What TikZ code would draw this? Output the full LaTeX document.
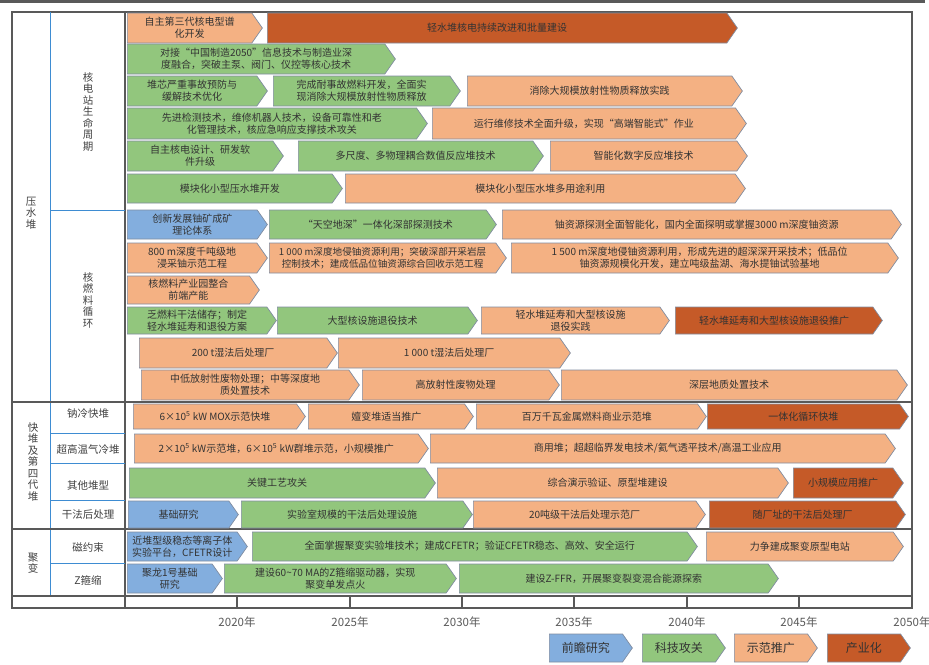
\documentclass[tikz,border=0pt]{standalone}
\usepackage{fontspec}
\setmainfont{Noto Sans CJK SC}
\usepackage{xcolor}
\usepackage{tikz}
\usetikzlibrary{shapes.symbols}

\definecolor{qianblue}{RGB}{131,174,222}
\definecolor{gonggreen}{RGB}{146,198,125}
\definecolor{shisalmon}{RGB}{244,177,131}
\definecolor{chandark}{RGB}{197,90,40}
\definecolor{edgegray}{RGB}{128,140,160}
\definecolor{framegray}{RGB}{89,89,89}
\definecolor{rowblue}{RGB}{62,140,210}

\tikzset{
  stagebox/.style={shape=signal, signal to=east, signal pointer angle=110,
    draw=edgegray, line width=0.7pt, inner sep=0pt, anchor=west, align=center,
    text=black!80, font=\fontsize{10}{12}\selectfont},
  wh/.style 2 args={minimum width=#1pt, minimum height=#2pt},
  qian/.style={stagebox, fill=qianblue},
  gong/.style={stagebox, fill=gonggreen},
  shi/.style={stagebox, fill=shisalmon},
  chan/.style={stagebox, fill=chandark},
  sidelabel/.style={align=center, text=black!75, font=\fontsize{10.5}{11.5}\selectfont},
  yearlabel/.style={text=black!65, font=\fontsize{11.5}{13}\selectfont},
  legendbox/.style={font=\fontsize{12}{14}\selectfont},
}

\begin{document}
\begin{tikzpicture}[x=1pt,y=-1pt]
  \useasboundingbox (0,0) rectangle (929,664);

  % top bar and frame
  \fill[framegray] (0,0) rectangle (925,3);
  \draw[framegray, line width=1.2pt] (12,12) rectangle (912,608);
  \draw[rowblue, line width=1pt] (50,12) -- (50,596);
  \draw[framegray, line width=1.2pt] (125,12) -- (125,608);
  \draw[framegray, line width=1.2pt] (12,402) -- (912,402);
  \draw[framegray, line width=1.2pt] (12,529) -- (912,529);
  \draw[framegray, line width=1.2pt] (12,596) -- (912,596);
  \draw[rowblue, line width=1pt] (50,210) -- (125,210);
  \foreach \yy in {433,463,500,563}
    \draw[rowblue, line width=1pt] (50,\yy) -- (125,\yy);

  % year ticks
  \foreach \xx/\yr in {237/2020,350/2025,462/2030,574/2035,687/2040,799/2045} {
    \draw[framegray, line width=1.2pt] (\xx,596) -- (\xx,608);
    \node[yearlabel] (y\yr) at (\xx,622) {\yr 年};
  }
  \node[yearlabel] (y2050) at (912,622) {2050年};

  % left labels
  \node[sidelabel] (pwr) at (31,213) {压\\水\\堆};
  \node[sidelabel] (life) at (88,112) {核\\电\\站\\生\\命\\周\\期};
  \node[sidelabel] (fuel) at (88,300) {核\\燃\\料\\循\\环};
  \node[sidelabel] (fast) at (33,462) {快\\堆\\及\\第\\四\\代\\堆};
  \node[sidelabel] (sfr) at (88,414) {钠冷快堆};
  \node[sidelabel] (vhtr) at (88,449) {超高温气冷堆};
  \node[sidelabel] (other) at (88,486) {其他堆型};
  \node[sidelabel] (dry) at (88,515) {干法后处理};
  \node[sidelabel] (fus) at (33,563) {聚\\变};
  \node[sidelabel] (mcf) at (88,547) {磁约束};
  \node[sidelabel] (zp) at (88,580) {Z箍缩};

  % nuclear plant life cycle
  \node[shi, wh={135}{30}] (r1a) at (127,28) {自主第三代核电型谱\\化开发};
  \node[chan, wh={470}{30}] (r1b) at (267,28) {轻水堆核电持续改进和批量建设};
  \node[gong, wh={268}{30}] (r2a) at (127,59) {对接“中国制造2050”信息技术与制造业深\\度融合，突破主泵、阀门、仪控等核心技术};
  \node[gong, wh={140}{30}] (r3a) at (127,91) {堆芯严重事故预防与\\缓解技术优化};
  \node[gong, wh={187}{30}] (r3b) at (273,91) {完成耐事故燃料开发，全面实\\现消除大规模放射性物质释放};
  \node[shi, wh={275}{30}] (r3c) at (467,91) {消除大规模放射性物质释放实践};
  \node[gong, wh={300}{31}] (r4a) at (127,123.5) {先进检测技术，维修机器人技术，设备可靠性和老\\化管理技术，核应急响应支撑技术攻关};
  \node[shi, wh={314}{31}] (r4b) at (432,123.5) {运行维修技术全面升级，实现“高端智能式”作业};
  \node[gong, wh={156}{30}] (r5a) at (127,156) {自主核电设计、研发软\\件升级};
  \node[gong, wh={245}{30}] (r5b) at (298,156) {多尺度、多物理耦合数值反应堆技术};
  \node[shi, wh={197}{30}] (r5c) at (550,156) {智能化数字反应堆技术};
  \node[gong, wh={215}{29}] (r6a) at (127,188.5) {模块化小型压水堆开发};
  \node[shi, wh={400}{29}] (r6b) at (345,188.5) {模块化小型压水堆多用途利用};

  % fuel cycle
  \node[qian, wh={140}{29}] (r7a) at (127,224.5) {创新发展铀矿成矿\\理论体系};
  \node[gong, wh={227}{29}] (r7b) at (269,224.5) {“天空地深”一体化深部探测技术};
  \node[shi, wh={399}{29}] (r7c) at (502,224.5) {铀资源探测全面智能化，国内全面探明或掌握3000 m深度铀资源};
  \node[shi, wh={140}{30}] (r8a) at (127,258) {800 m深度千吨级地\\浸采铀示范工程};
  \node[shi, wh={237}{30}, font=\fontsize{9.6}{12}\selectfont] (r8b) at (269,258) {1 000 m深度地侵铀资源利用；突破深部开采岩层\\控制技术；建成低品位铀资源综合回收示范工程};
  \node[shi, wh={387}{30}] (r8c) at (511,258) {1 500 m深度地侵铀资源利用，形成先进的超深深开采技术；低品位\\铀资源规模化开发，建立吨级盐湖、海水提铀试验基地};
  \node[shi, wh={132}{28}] (r9a) at (127,290) {核燃料产业园整合\\前端产能};
  \node[gong, wh={149}{27}] (r10a) at (127,320.5) {乏燃料干法储存；制定\\轻水堆延寿和退役方案};
  \node[gong, wh={200}{27}] (r10b) at (277,320.5) {大型核设施退役技术};
  \node[shi, wh={188}{27}] (r10c) at (481,320.5) {轻水堆延寿和大型核设施\\退役实践};
  \node[chan, wh={207}{27}] (r10d) at (675,320.5) {轻水堆延寿和大型核设施退役推广};
  \node[shi, wh={198}{30}] (r11a) at (139,353) {200 t湿法后处理厂};
  \node[shi, wh={232}{30}] (r11b) at (338,353) {1 000 t湿法后处理厂};
  \node[shi, wh={218}{30}] (r12a) at (141,385) {中低放射性废物处理；中等深度地\\质处置技术};
  \node[shi, wh={197}{30}] (r12b) at (362,385) {高放射性废物处理};
  \node[shi, wh={346}{30}] (r12c) at (561,385) {深层地质处置技术};

  % fast reactors and generation IV
  \node[shi, wh={172}{25}] (r13a) at (133,416.5) {6×10\textsuperscript{5} kW MOX示范快堆};
  \node[shi, wh={165}{25}] (r13b) at (308,416.5) {嬗变堆适当推广};
  \node[shi, wh={230}{25}] (r13c) at (476,416.5) {百万千瓦金属燃料商业示范堆};
  \node[chan, wh={201}{25}] (r13d) at (707,416.5) {一体化循环快堆};
  \node[shi, wh={294}{29}] (r14a) at (134,448.5) {2×10\textsuperscript{5} kW示范堆，6×10\textsuperscript{5} kW群堆示范，小规模推广};
  \node[shi, wh={465}{29}] (r14b) at (430,448.5) {商用堆；超超临界发电技术/氦气透平技术/高温工业应用};
  \node[gong, wh={306}{30}] (r15a) at (129,483) {关键工艺攻关};
  \node[shi, wh={351}{30}] (r15b) at (437,483) {综合演示验证、原型堆建设};
  \node[chan, wh={110}{30}] (r15c) at (793,483) {小规模应用推广};
  \node[qian, wh={110}{27}] (r16a) at (128,514.5) {基础研究};
  \node[gong, wh={231}{27}] (r16b) at (241,514.5) {实验室规模的干法后处理设施};
  \node[shi, wh={232}{27}] (r16c) at (473,514.5) {20吨级干法后处理示范厂};
  \node[chan, wh={196}{27}] (r16d) at (709,514.5) {随厂址的干法后处理厂};

  % fusion
  \node[qian, wh={120}{29}] (r17a) at (127,546.5) {近堆型级稳态等离子体\\实验平台，CFETR设计};
  \node[gong, wh={445}{29}] (r17b) at (252,546.5) {全面掌握聚变实验堆技术；建成CFETR；验证CFETR稳态、高效、安全运行};
  \node[shi, wh={197}{29}] (r17c) at (706,546.5) {力争建成聚变原型电站};
  \node[qian, wh={95}{29}] (r18a) at (127,578.5) {聚龙1号基础\\研究};
  \node[gong, wh={232}{29}] (r18b) at (224,578.5) {建设60\textasciitilde 70 MA的Z箍缩驱动器，实现\\聚变单发点火};
  \node[gong, wh={319}{29}] (r18c) at (459,578.5) {建设Z-FFR，开展聚变裂变混合能源探索};

  % legend
  \node[qian, legendbox, wh={83}{28}] (lq) at (549,648) {前瞻研究};
  \node[gong, legendbox, wh={83}{28}] (lg) at (642,648) {科技攻关};
  \node[shi, legendbox, wh={83}{28}] (ls) at (734,648) {示范推广};
  \node[chan, legendbox, wh={83}{28}] (lc) at (827,648) {产业化};
\end{tikzpicture}
\end{document}
